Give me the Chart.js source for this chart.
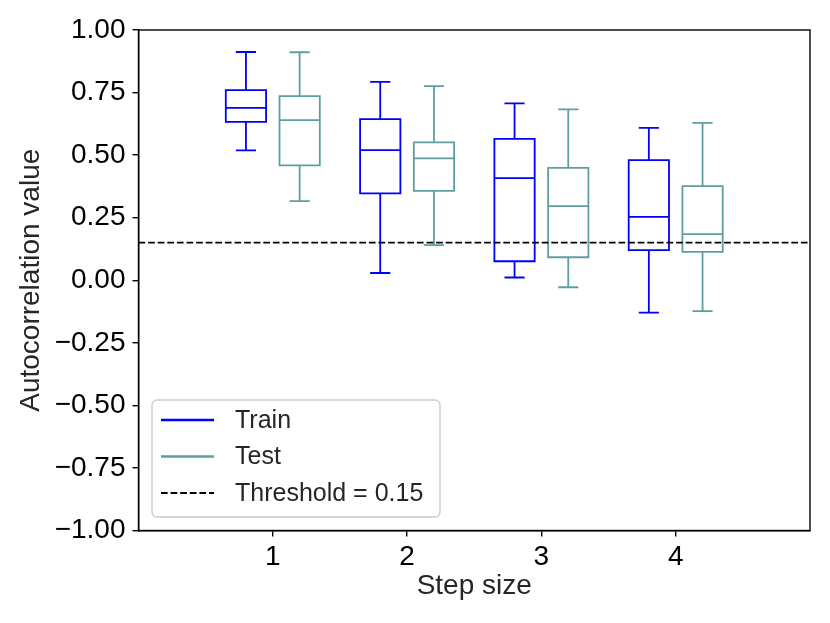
<!DOCTYPE html>
<html>
<head>
<meta charset="utf-8">
<script src="https://cdn.jsdelivr.net/npm/chart.js@4/dist/chart.umd.min.js"></script>
<style>
  html, body { margin: 0; padding: 0; background: #fff; }
  #wrap { width: 830px; height: 623px; }
</style>
</head>
<body>
<div id="wrap"><canvas id="boxChart"></canvas></div>
<script>
const stepSizes = [1, 2, 3, 4];
const yTickValues = [-1, -0.75, -0.5, -0.25, 0, 0.25, 0.5, 0.75, 1];

const trainLow = [0.519, 0.029, 0.011, -0.129];
const trainQ1 = [0.633, 0.347, 0.076, 0.12];
const trainMedian = [0.689, 0.52, 0.408, 0.253];
const trainQ3 = [0.76, 0.644, 0.565, 0.48];
const trainHigh = [0.912, 0.793, 0.707, 0.609];

const testLow = [0.316, 0.14, -0.028, -0.123];
const testQ1 = [0.459, 0.357, 0.092, 0.113];
const testMedian = [0.64, 0.487, 0.296, 0.184];
const testQ3 = [0.736, 0.551, 0.449, 0.376];
const testHigh = [0.911, 0.776, 0.683, 0.629];

const threshold = 0.15;

const palette = {
  train: "#0000ff",
  test: "#5f9ea0",
  threshold: "#000000",
  text: "#262626",
};

const fontFamily = "'Liberation Sans', Arial, sans-serif";

const boxGroups = [
  { label: "Train", color: palette.train, offset: -0.2, low: trainLow, q1: trainQ1, med: trainMedian, q3: trainQ3, high: trainHigh },
  { label: "Test", color: palette.test, offset: 0.2, low: testLow, q1: testQ1, med: testMedian, q3: testQ3, high: testHigh },
];

// draws the box plots through the chart's scales, plus frame and legend
const boxPlotPlugin = {
  id: "boxPlot",
  beforeDatasetsDraw(chart) {
    const { ctx, scales: { x, y } } = chart;
    const boxW = 0.3;
    ctx.save();
    ctx.lineWidth = 1.8;
    ctx.setLineDash([]);
    boxGroups.forEach((g) => {
      ctx.strokeStyle = g.color;
      stepSizes.forEach((s, i) => {
        const cx = x.getPixelForValue(s + g.offset);
        const l = x.getPixelForValue(s + g.offset - boxW / 2);
        const r = x.getPixelForValue(s + g.offset + boxW / 2);
        const cl = x.getPixelForValue(s + g.offset - boxW / 4);
        const cr = x.getPixelForValue(s + g.offset + boxW / 4);
        const yq1 = y.getPixelForValue(g.q1[i]);
        const yq3 = y.getPixelForValue(g.q3[i]);
        const ymed = y.getPixelForValue(g.med[i]);
        const ylo = y.getPixelForValue(g.low[i]);
        const yhi = y.getPixelForValue(g.high[i]);
        ctx.beginPath();
        ctx.rect(l, yq3, r - l, yq1 - yq3);
        ctx.moveTo(l, ymed); ctx.lineTo(r, ymed);
        ctx.moveTo(cx, yq1); ctx.lineTo(cx, ylo);
        ctx.moveTo(cx, yq3); ctx.lineTo(cx, yhi);
        ctx.moveTo(cl, ylo); ctx.lineTo(cr, ylo);
        ctx.moveTo(cl, yhi); ctx.lineTo(cr, yhi);
        ctx.stroke();
      });
    });
    ctx.restore();
  },
  afterDraw(chart) {
    const { ctx, chartArea: a } = chart;
    ctx.save();
    // frame
    ctx.strokeStyle = "#000";
    ctx.lineWidth = 1.4;
    ctx.strokeRect(a.left, a.top, a.right - a.left, a.bottom - a.top);

    // legend
    const lx = 152, ly = 400, lw = 288, lh = 117, rad = 5;
    ctx.beginPath();
    ctx.roundRect(lx, ly, lw, lh, rad);
    ctx.fillStyle = "rgba(255,255,255,0.8)";
    ctx.fill();
    ctx.strokeStyle = "#cccccc";
    ctx.lineWidth = 1.4;
    ctx.stroke();

    const rows = [
      { text: "Train", color: palette.train, dash: [] },
      { text: "Test", color: palette.test, dash: [] },
      { text: "Threshold = " + threshold, color: palette.threshold, dash: [6.7, 2.9] },
    ];
    ctx.font = "25px " + fontFamily;
    ctx.textBaseline = "middle";
    rows.forEach((row, i) => {
      const ry = 420 + i * 36.5;
      ctx.beginPath();
      ctx.setLineDash(row.dash);
      ctx.strokeStyle = row.color;
      ctx.lineWidth = row.dash.length ? 1.8 : 2.6;
      ctx.moveTo(161, ry);
      ctx.lineTo(214, ry);
      ctx.stroke();
      ctx.setLineDash([]);
      ctx.fillStyle = palette.text;
      ctx.fillText(row.text, 235, ry + 1);
    });
    ctx.restore();
  },
};

function initBoxChart() {
  const ctx = document.getElementById("boxChart");
  if (!ctx) return;

  new Chart(ctx, {
    type: "line",
    data: {
      datasets: [
        {
          label: "Threshold = " + threshold,
          data: [{ x: 0, y: threshold }, { x: 5, y: threshold }],
          borderColor: palette.threshold,
          borderWidth: 1.8,
          borderDash: [6.7, 2.9],
          pointRadius: 0,
          fill: false,
        },
      ],
    },
    options: {
      responsive: true,
      maintainAspectRatio: false,
      animation: false,
      layout: { padding: { top: 30, right: 20, left: 0, bottom: 0 } },
      plugins: {
        legend: { display: false },
        tooltip: { enabled: false },
      },
      scales: {
        x: {
          type: "linear",
          min: 0,
          max: 5,
          afterBuildTicks: (scale) => {
            scale.ticks = stepSizes.map((v) => ({ value: v }));
          },
          afterFit: (scale) => { scale.height = 92.5; },
          grid: { drawOnChartArea: false, drawTicks: true, tickLength: 6, color: "#000", lineWidth: 1.4 },
          border: { display: true, color: "#000", width: 1.4 },
          ticks: { color: "#000", font: { family: fontFamily, size: 28 }, padding: 4, maxRotation: 0 },
          title: {
            display: true,
            text: "Step size",
            color: palette.text,
            font: { family: fontFamily, size: 28 },
            padding: { top: 0, bottom: 20 },
          },
        },
        y: {
          type: "linear",
          min: -1,
          max: 1,
          afterBuildTicks: (scale) => {
            scale.ticks = yTickValues.map((v) => ({ value: v }));
          },
          afterFit: (scale) => { scale.width = 138.5; },
          grid: { drawOnChartArea: false, drawTicks: true, tickLength: 6, color: "#000", lineWidth: 1.4 },
          border: { display: true, color: "#000", width: 1.4 },
          ticks: {
            color: "#000",
            font: { family: fontFamily, size: 28 },
            padding: 7,
            callback: (v) => (v < 0 ? "\u2212" : "") + Math.abs(v).toFixed(2),
          },
          title: {
            display: true,
            text: "Autocorrelation value",
            color: palette.text,
            font: { family: fontFamily, size: 28 },
            padding: { top: 14, bottom: 0 },
          },
        },
      },
    },
    plugins: [boxPlotPlugin],
  });
}

initBoxChart();
</script>
</body>
</html>
